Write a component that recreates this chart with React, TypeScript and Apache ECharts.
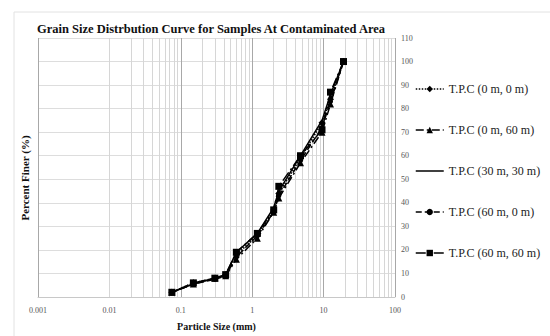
import React, { useEffect, useRef } from "react";
import * as echarts from "echarts";

const sieveSizes = [19, 12.5, 9.5, 4.75, 2.36, 2.0, 1.18, 0.6, 0.425, 0.3, 0.15, 0.075];
const seriesNames = [
  "T.P.C (0 m, 0 m)",
  "T.P.C (0 m, 60 m)",
  "T.P.C (30 m, 30 m)",
  "T.P.C (60 m, 0 m)",
  "T.P.C (60 m, 60 m)",
];
const finer00 = [100, 84, 74, 59, 44, 37, 26, 18, 9.5, 8, 6, 2];
const finer060 = [100, 82, 70, 57, 42, 36, 25, 16, 9, 8, 5.5, 2];
const finer3030 = [100, 86, 75, 60, 45, 38, 27, 19, 9.5, 8, 5.5, 2];
const finer600 = [100, 83, 72, 58, 43, 36, 26, 17, 9, 7.5, 5.5, 2];
const finer6060 = [100, 87, 71, 60, 47, 37, 27, 19, 9.5, 8, 6, 2];
const xTicks = [0.001, 0.01, 0.1, 1, 10, 100];
const minorMultipliers = [2, 3, 4, 5, 6, 7, 8, 9];

const serif = "'Liberation Serif', 'Times New Roman', serif";

export default function App() {
  const ref = useRef<HTMLDivElement>(null);
  useEffect(() => {
    if (!ref.current) return;
    const chart = echarts.init(ref.current, undefined, { renderer: "svg" });
    const minorLines: any[] = [];
    for (let i = 0; i < xTicks.length - 1; i++) {
      for (const m of minorMultipliers) {
        minorLines.push({ xAxis: +(xTicks[i] * m).toPrecision(3) });
      }
    }
    const pair = (vals: number[]) => sieveSizes.map((s, i) => [s, vals[i]]);
    const styles = [
      { data: finer00, type: "dotted", symbol: "diamond", size: 7 },
      { data: finer060, type: [8, 3, 2, 3], symbol: "triangle", size: 7 },
      { data: finer3030, type: "solid", symbol: "none", size: 0 },
      { data: finer600, type: [6, 3], symbol: "circle", size: 5 },
      { data: finer6060, type: [10, 3, 2, 3], symbol: "rect", size: 7 },
    ];
    const series: any[] = [
      {
        type: "line",
        name: "_grid",
        data: [[1, 50]],
        z: 1,
        silent: true,
        showSymbol: false,
        symbol: "none",
        lineStyle: { opacity: 0 },
        markLine: {
          silent: true,
          z: 1,
          symbol: "none",
          label: { show: false },
          lineStyle: { color: "#d6d6d6", type: "solid", width: 1 },
          emphasis: { disabled: true },
          data: minorLines,
          animation: false,
        },
      },
      ...styles.map((s, i) => ({
        type: "line",
        name: seriesNames[i],
        data: pair(s.data),
        z: 3,
        symbol: s.symbol === "none" ? "circle" : s.symbol,
        symbolSize: s.size,
        showSymbol: s.symbol !== "none",
        lineStyle: { color: "#000", width: 1.5, type: s.type },
        itemStyle: { color: "#000" },
      })),
    ];
    chart.setOption({
      animation: false,
      backgroundColor: "#fff",
      grid: { left: 38, right: 155, top: 38, bottom: 30, containLabel: false },
      legend: {
        data: seriesNames.map((n, i) =>
          i === 2 ? { name: n, itemStyle: { opacity: 0 } } : { name: n }
        ),
        orient: "vertical",
        left: 410,
        top: 78,
        itemGap: 29,
        itemWidth: 28,
        itemHeight: 8,
        lineStyle: { width: 1.5 },
        textStyle: { fontFamily: serif, fontSize: 12, color: "#222" },
      },
      xAxis: {
        type: "log",
        logBase: 10,
        min: 0.001,
        max: 100,
        name: "Particle Size (mm)",
        nameLocation: "middle",
        nameGap: 24,
        nameTextStyle: { fontFamily: serif, fontSize: 10, fontWeight: "bold", color: "#111" },
        axisLine: { show: true, lineStyle: { color: "#c8c8c8" } },
        axisTick: { show: false },
        axisLabel: {
          fontFamily: serif,
          fontSize: 8,
          color: "#555",
          margin: 9,
          formatter: (v: number) => String(v),
        },
        splitLine: { show: true, lineStyle: { color: "#a8a8a8", width: 1 } },
      },
      yAxis: {
        type: "value",
        position: "right",
        min: 0,
        max: 110,
        interval: 10,
        axisLine: { show: false },
        axisTick: { show: false },
        axisLabel: { fontFamily: serif, fontSize: 8, color: "#555", margin: 6 },
        splitLine: { show: true, lineStyle: { color: "#dddddd", width: 1 } },
      },
      graphic: [
        {
          type: "rect",
          z: -10,
          shape: { x: 14, y: 12, width: 600, height: 400 },
          style: { fill: "none", stroke: "#e2e2e2", lineWidth: 1 },
          silent: true,
        },
        {
          type: "text",
          x: 211,
          y: 29,
          style: {
            text: "Grain Size Distrbution Curve for Samples At Contaminated Area",
            fontFamily: serif,
            fontSize: 12.5,
            fontWeight: "bold",
            fill: "#111",
            align: "center",
            verticalAlign: "middle",
          },
        },
        {
          type: "text",
          x: 25,
          y: 178,
          rotation: Math.PI / 2,
          style: {
            text: "Percent Finer (%)",
            fontFamily: serif,
            fontSize: 11,
            fontWeight: "bold",
            fill: "#111",
            align: "center",
            verticalAlign: "middle",
          },
        },
      ],
      series,
    });
    return () => chart.dispose();
  }, []);
  return <div ref={ref} style={{ width: 550, height: 336, position: "absolute", left: 0, top: 0 }} />;
}
